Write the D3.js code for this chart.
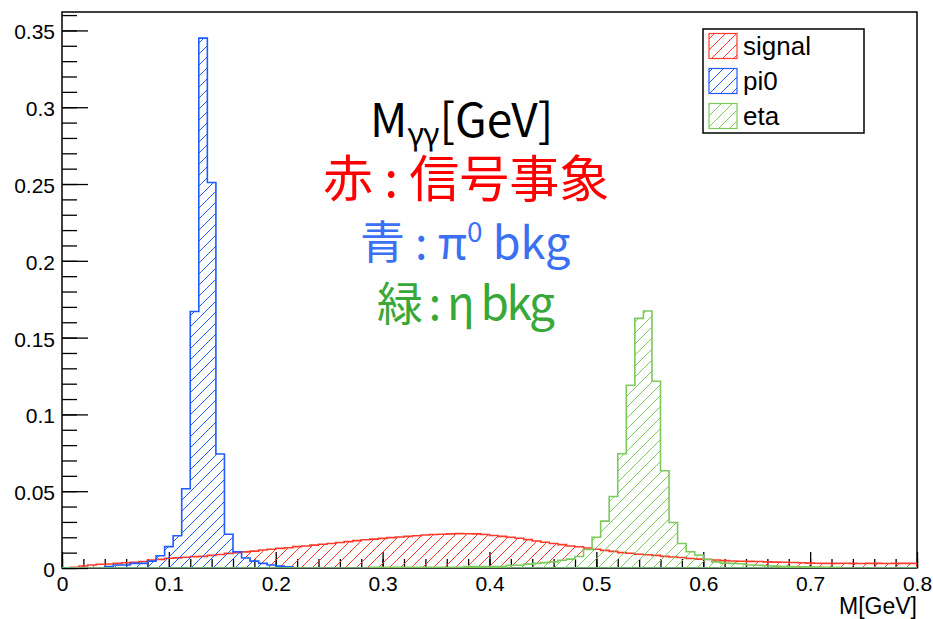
<!DOCTYPE html>
<html><head><meta charset="utf-8">
<script src="https://cdn.jsdelivr.net/npm/d3@7"></script>
<style>body{margin:0;background:#fff}</style>
</head><body>
<svg id="c" width="933" height="619"></svg>
<script>
// ---- data (100 bins of 0.008 GeV from 0 to 0.8) ----
const binWidth = 0.008;
const signal = [
 0, 0.0005, 0.0013, 0.002, 0.0024, 0.0026, 0.003, 0.0034, 0.0037, 0.0042,
 0.0052, 0.0056, 0.0063, 0.0066, 0.007, 0.0074, 0.0076, 0.0082, 0.0088, 0.0095,
 0.010, 0.0105, 0.011, 0.0117, 0.0122, 0.0128, 0.0132, 0.0139, 0.0143, 0.0149,
 0.0155, 0.016, 0.0166, 0.0172, 0.0178, 0.0184, 0.0188, 0.0193, 0.0198, 0.0202,
 0.0206, 0.021, 0.0215, 0.0218, 0.022, 0.0222, 0.0224, 0.0223, 0.0222, 0.0218,
 0.0212, 0.0206, 0.020, 0.0194, 0.0185, 0.0176, 0.0168, 0.016, 0.0152, 0.0143,
 0.0138, 0.013, 0.0122, 0.0115, 0.0108, 0.010, 0.0096, 0.009, 0.0086, 0.0082,
 0.0076, 0.0072, 0.0068, 0.0062, 0.0058, 0.0055, 0.0052, 0.0048, 0.0046, 0.0044,
 0.0043, 0.0042, 0.004, 0.0038, 0.0037, 0.0036, 0.0034, 0.0032, 0.0031, 0.003,
 0.003, 0.0031, 0.003, 0.0029, 0.003, 0.003, 0.0029, 0.003, 0.003, 0.003
];
const pi0 = [
 0, 0, 0, 0, 0, 0.001, 0.002, 0.002, 0.003, 0.003,
 0.0045, 0.008, 0.0139, 0.021, 0.0516, 0.167, 0.345, 0.251, 0.0742, 0.022,
 0.0106, 0.0065, 0.0045, 0.003, 0.002, 0.0012, 0.0008, 0, 0, 0,
 0, 0, 0, 0, 0, 0, 0, 0, 0, 0,
 0, 0, 0, 0, 0, 0, 0, 0, 0, 0,
 0, 0, 0, 0, 0, 0, 0, 0, 0, 0,
 0, 0, 0, 0, 0, 0, 0, 0, 0, 0,
 0, 0, 0, 0, 0, 0, 0, 0, 0, 0,
 0, 0, 0, 0, 0, 0, 0, 0, 0, 0,
 0, 0, 0, 0, 0, 0, 0, 0, 0, 0
];
const eta = [
 0, 0, 0, 0, 0, 0, 0, 0, 0, 0,
 0, 0, 0, 0, 0, 0, 0, 0, 0, 0,
 0, 0, 0, 0, 0, 0, 0, 0, 0, 0,
 0, 0, 0, 0, 0, 0, 0.0004, 0.0004, 0.0004, 0.0004,
 0.0004, 0.0004, 0.0004, 0.0004, 0.0004, 0.0004, 0.0004, 0.001, 0.001, 0.001,
 0.001, 0.001, 0.0018, 0.0018, 0.0025, 0.003, 0.0035, 0.004, 0.005, 0.0058,
 0.0075, 0.012, 0.020, 0.0305, 0.0466, 0.0744, 0.119, 0.1625, 0.1673, 0.1216,
 0.0633, 0.0296, 0.016, 0.0106, 0.0085, 0.0057, 0.004, 0.0032, 0.003, 0.0028,
 0.002, 0.0018, 0.0015, 0.0012, 0.001, 0.0009, 0.0008, 0.0007, 0.0006, 0.0005,
 0.0004, 0, 0, 0, 0, 0, 0, 0, 0, 0
];
const xTicks = [0, 0.1, 0.2, 0.3, 0.4, 0.5, 0.6, 0.7, 0.8];
const yTicks = [0, 0.05, 0.1, 0.15, 0.2, 0.25, 0.3, 0.35];
const legendLabels = ["signal", "pi0", "eta"];
const xTitle = "M[GeV]";

// ---- layout ----
const L = 62, R = 917, T = 12, B = 568;
const svg = d3.select("#c");
const x = d3.scaleLinear().domain([0, 0.8]).range([L, R]);
const y = d3.scaleLinear().domain([0, 0.362]).range([B, T]);

const colors = {signal: "#ff3a2a", pi0: "#1f5cff", eta: "#7cc95c"};
const series = [
  {key: "signal", vals: signal},
  {key: "pi0", vals: pi0},
  {key: "eta", vals: eta}
];

const defs = svg.append("defs");
series.forEach(s => {
  const p = defs.append("pattern").attr("id", "h-" + s.key)
    .attr("patternUnits", "userSpaceOnUse").attr("width", 11).attr("height", 11);
  p.append("path").attr("d", "M0,11 L11,0 M-2,2 L2,-2 M9,13 L13,9")
    .attr("stroke", colors[s.key]).attr("stroke-width", 1).attr("fill", "none");
});
defs.append("clipPath").attr("id", "frameClip").append("rect")
  .attr("x", L).attr("y", T).attr("width", R - L).attr("height", B - T);

// ---- axes ----
const fmt = v => String(+v.toFixed(2));
const font = "'Liberation Sans', Arial, sans-serif";

const yMinor = d3.range(0, 0.3601, 0.01);
svg.append("g").attr("transform", `translate(${L},0)`)
  .call(d3.axisLeft(y).tickValues(yMinor).tickSize(-15).tickFormat(""))
  .call(g => g.select(".domain").remove());
svg.append("g").attr("transform", `translate(${L},0)`)
  .call(d3.axisLeft(y).tickValues(yTicks).tickSize(-26).tickPadding(7).tickFormat(fmt))
  .call(g => g.select(".domain").remove())
  .call(g => g.selectAll("text").attr("font-family", font).attr("font-size", 21).attr("fill", "#000").attr("dy", "0.4em"));

const xMinor = d3.range(0, 0.8001, 0.02);
svg.append("g").attr("transform", `translate(0,${B})`)
  .call(d3.axisBottom(x).tickValues(xMinor).tickSize(-9).tickFormat(""))
  .call(g => g.select(".domain").remove());
svg.append("g").attr("transform", `translate(0,${B})`)
  .call(d3.axisBottom(x).tickValues(xTicks).tickSize(-16).tickPadding(8).tickFormat(fmt))
  .call(g => g.select(".domain").remove())
  .call(g => g.selectAll("text").attr("font-family", font).attr("font-size", 21).attr("fill", "#000"));
svg.selectAll(".tick line").attr("stroke", "#000").attr("stroke-width", 1.3);

// frame
svg.append("rect").attr("x", L).attr("y", T).attr("width", R - L).attr("height", B - T)
  .attr("fill", "none").attr("stroke", "#000").attr("stroke-width", 1.5);

// x title
svg.append("text").attr("x", R).attr("y", 614).attr("text-anchor", "end")
  .attr("font-family", font).attr("font-size", 23).text(xTitle);

// ---- histograms ----
function stepPath(vals) {
  let p = `M${x(0)},${y(0)}`;
  vals.forEach((v, i) => {
    const x0 = x(i * binWidth), x1 = x((i + 1) * binWidth);
    p += `L${x0},${y(v)}L${x1},${y(v)}`;
  });
  p += `L${x(vals.length * binWidth)},${y(0)}Z`;
  return p;
}
const hg = svg.append("g").attr("clip-path", "url(#frameClip)");
series.forEach(s => {
  hg.append("path").attr("d", stepPath(s.vals))
    .attr("fill", `url(#h-${s.key})`)
    .attr("stroke", colors[s.key]).attr("stroke-width", 1.6)
    .attr("stroke-linejoin", "miter");
});

// ---- legend ----
const lg = svg.append("g");
lg.append("rect").attr("x", 703).attr("y", 29).attr("width", 161).attr("height", 104)
  .attr("fill", "#fff").attr("stroke", "#000").attr("stroke-width", 1.5);
legendLabels.forEach((lab, i) => {
  const cy = 46 + i * 35;
  const key = series[i].key;
  lg.append("rect").attr("x", 709).attr("y", cy - 12.5).attr("width", 28).attr("height", 25)
    .attr("fill", `url(#h-${key})`).attr("stroke", colors[key]).attr("stroke-width", 1.2);
  lg.append("text").attr("x", 743).attr("y", cy + 8.5)
    .attr("font-family", font).attr("font-size", 26).attr("fill", "#000").text(lab);
});

// ---- annotation ----
const af = "'Noto Sans CJK JP', sans-serif";
const a1 = svg.append("text").attr("x", 370).attr("y", 137).attr("font-family", af)
  .attr("font-size", 46).attr("fill", "#000");
a1.append("tspan").text("M");
a1.append("tspan").attr("font-size", 31).attr("dy", 8).text("γγ");
a1.append("tspan").attr("dy", -8).text("[GeV]");

svg.append("text").attr("x", 323).attr("y", 197).attr("font-family", af)
  .attr("font-size", 50).attr("fill", "#ff0000").text("赤 : 信号事象");

const a3 = svg.append("text").attr("x", 360).attr("y", 259).attr("font-family", af)
  .attr("font-size", 45).attr("fill", "#3b70f2");
a3.append("tspan").text("青 : π");
a3.append("tspan").attr("font-size", 28).attr("dy", -17).text("0");
a3.append("tspan").attr("dy", 17).text(" bkg");

svg.append("text").attr("x", 377).attr("y", 320).attr("font-family", af)
  .attr("font-size", 46).attr("fill", "#38a838")
  .attr("textLength", 178).attr("lengthAdjust", "spacing").text("緑 : η bkg");
</script>
</body></html>
